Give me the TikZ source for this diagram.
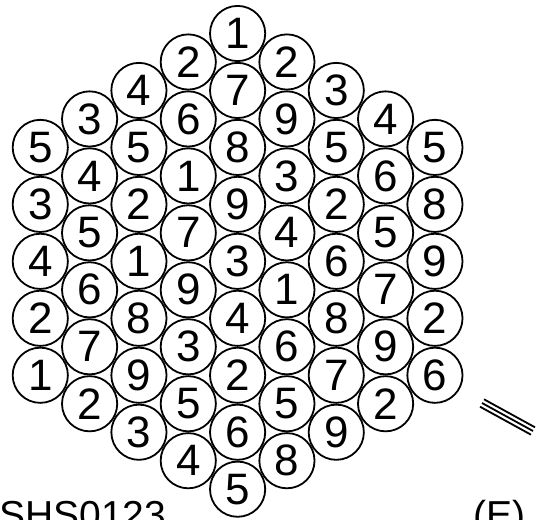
\documentclass[tikz,border=0pt]{standalone}
\usepackage{fontspec}
\setmainfont{Liberation Sans}
\begin{document}
\begin{tikzpicture}[x=1pt,y=-1pt,
  ball/.style={circle,draw,line width=1.8pt,minimum size=55.2pt,inner sep=0pt,
    font=\fontsize{44}{44}\selectfont},
  lbl/.style={inner sep=0pt,font=\fontsize{39}{39}\selectfont},
  hatch/.style={line width=1.8pt}]
\useasboundingbox (0,0) rectangle (537,519);
\foreach \col/\lst in {0/{5,3,4,2,1},1/{3,4,5,6,7,2},2/{4,5,2,1,8,9,3},
  3/{2,6,1,7,9,3,5,4},4/{1,7,8,9,3,4,2,6,5},5/{2,9,3,4,1,6,5,8},
  6/{3,5,2,6,8,7,9},7/{4,6,5,7,9,2},8/{5,8,9,2,6}}{
  \foreach \d [count=\k from 0] in \lst {
    \node[ball] (c\col-\k) at ({237.6+(\col-4)*49.33},{33.5+abs(\col-4)*28.48+\k*56.96}) {\d};
  }
}
\node[lbl,anchor=base west] (code) at (-1,528) {SHS0123};
\node[lbl,anchor=base west] (tag) at (473,528) {(E)};
\coordinate (a1) at (484,399.3); \coordinate (a2) at (535,427.3);
\coordinate (b1) at (482,403);   \coordinate (b2) at (533,431);
\coordinate (d1) at (480,406.7); \coordinate (d2) at (531,434.7);
\draw[hatch] (a1) -- (a2);
\draw[hatch] (b1) -- (b2);
\draw[hatch] (d1) -- (d2);
\end{tikzpicture}
\end{document}
